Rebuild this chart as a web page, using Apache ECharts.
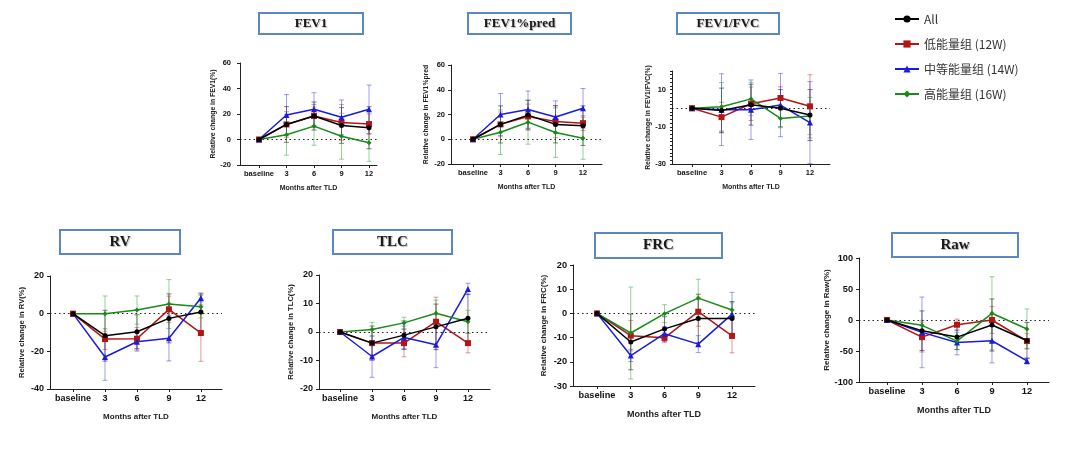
<!DOCTYPE html>
<html><head><meta charset="utf-8">
<script src="https://cdn.jsdelivr.net/npm/echarts@6/dist/echarts.min.js"></script>
<style>html,body{margin:0;padding:0;background:#fff}#c{width:1080px;height:450px}</style>
</head><body><div id="c"></div>
<script>
// ---------- data ----------
const months = ['baseline', '3', '6', '9', '12'];
const groups = ['All', '低能量组 (12W)', '中等能量组 (14W)', '高能量组 (16W)'];

// each: [All, Low(12W), Mid(14W), High(16W)]
const fev1Mean = [[0, 11.8, 18.4, 11, 9.2], [0, 11.8, 18.4, 13.4, 12.1], [0, 19.2, 23.7, 17.4, 23.7], [0, 3.7, 10.5, 2.6, -2.6]];
const fev1Sd   = [[0, 14, 11, 14, 16.5], [0, 10, 9, 14, 8], [0, 16, 13, 13.6, 19], [0, 16, 15, 18, 14.5]];

const fev1PredMean = [[0, 12, 19.5, 12, 11], [0, 12, 18.4, 14.3, 13], [0, 20, 24, 18, 25], [0, 5.7, 13.8, 5.4, 0.8]];
const fev1PredSd   = [[0, 15, 12, 15, 16], [0, 10, 10, 13, 6], [0, 17, 15, 13, 16], [0, 18, 17.8, 20, 17]];

const fev1FvcMean = [[0, -1.2, 1.9, 0, -3.7], [0, -4.8, 2.4, 5.5, 1], [0, -0.8, -0.8, 1.7, -7.7], [0, 0.8, 5, -5.5, -4.2]];
const fev1FvcSd   = [[0, 12, 11, 10, 13.7], [0, 8, 9, 6, 17], [0, 19.3, 16, 17, 22], [0, 13, 9, 5, 10]];

const rvMean = [[0, -11.7, -9.6, -2.5, 0.9], [0, -13.5, -13.3, 2.3, -10.3], [0, -23, -14.9, -13.1, 8.3], [0, 0, 1.9, 5.1, 3.7]];
const rvSd   = [[0, 13.5, 9, 13, 10], [0, 5.5, 6, 7, 15], [0, 12.4, 5, 12, 2], [0, 9.4, 7.5, 13, 6]];

const tlcMean = [[0, -3.9, -1.1, 1.8, 4.8], [0, -3.9, -3.9, 3.6, -3.9], [0, -8.6, -1.9, -4.5, 15.1], [0, 0.9, 3.2, 6.6, 3.6]];
const tlcSd   = [[0, 6, 5, 8, 8.5], [0, 5, 4.8, 8.6, 3.4], [0, 7.3, 4, 8, 2], [0, 2.5, 2, 4.6, 4]];

const frcMean = [[0, -11.8, -6.4, -2.1, -2.1], [0, -9.2, -10.1, 0.7, -9.3], [0, -17.4, -8.4, -12.7, -0.3], [0, -8.1, -0.1, 6.3, 1.4]];
const frcSd   = [[0, 11.5, 5, 10, 7], [0, 6.3, 2, 6, 7], [0, 2.5, 3, 3.5, 9], [0, 19, 3.7, 7.8, 3]];

const rawMean = [[0, -17.3, -27.6, -8.1, -33], [0, -27.6, -7.6, 0, -34], [0, -20, -36.2, -33.5, -66], [0, -8.6, -34, 10.8, -14.6]];
const rawSd   = [[0, 32, 20, 42, 29], [0, 24, 9, 21.6, 12], [0, 57, 20, 35.7, 5], [0, 8, 14, 59, 32.4]];

// ---------- layout / style ----------
const colors = ['#000000', '#b31515', '#1a1ae0', '#188a18'];
const errColors = ['rgba(0,0,0,0.5)', 'rgba(190,30,30,0.45)', 'rgba(40,40,230,0.45)', 'rgba(30,150,30,0.45)'];
const symbols = ['circle', 'rect', 'triangle', 'diamond'];
const symSizes = [5, 6, 6, 5];

const panels = [
  {title: 'FEV1', yName: 'Relative change in FEV1(%)', mean: fev1Mean, sd: fev1Sd, ymin: -20, ymax: 60, interval: 20,
   grid: {left: 240, top: 63, width: 137, height: 102}, xmin: -0.69, xmax: 4.29, box: [259, 13, 104, 21], tfs: 13, fs: 7.5, nfs: 7, yfs: 6.8, yGap: 21, lblMargin: 9},
  {title: 'FEV1%pred', yName: 'Relative change in FEV1%pred', mean: fev1PredMean, sd: fev1PredSd, ymin: -20, ymax: 60, interval: 20,
   grid: {left: 451, top: 65, width: 151, height: 99}, xmin: -0.8, xmax: 4.69, box: [468, 13, 103, 21], tfs: 13, fs: 7.5, nfs: 7, yfs: 6.8, yGap: 21, lblMargin: 6},
  {title: 'FEV1/FVC', yName: 'Relative change in FEV1/FVC(%)', mean: fev1FvcMean, sd: fev1FvcSd, ymin: -30, ymax: 20, interval: 2, labels: [-30, -10, 10],
   grid: {left: 672, top: 71, width: 158, height: 93}, xmin: -0.68, xmax: 4.68, box: [677, 13, 102, 21], tfs: 13, fs: 7.5, nfs: 7, yfs: 6.8, yGap: 20, lblMargin: 6},
  {title: 'RV', yName: 'Relative change in RV(%)', mean: rvMean, sd: rvSd, ymin: -40, ymax: 20, interval: 20,
   grid: {left: 50, top: 276, width: 172, height: 113}, xmin: -0.72, xmax: 4.66, box: [60, 230, 120, 24], tfs: 15, fs: 9, nfs: 8, yfs: 7.6, yGap: 24, lblMargin: 6},
  {title: 'TLC', yName: 'Relative change in TLC(%)', mean: tlcMean, sd: tlcSd, ymin: -20, ymax: 20, interval: 10,
   grid: {left: 319, top: 275, width: 171, height: 114}, xmin: -0.66, xmax: 4.69, box: [333, 230, 119, 24], tfs: 15, fs: 9, nfs: 8, yfs: 7.6, yGap: 24, lblMargin: 6},
  {title: 'FRC', yName: 'Relative change in FRC(%)', mean: frcMean, sd: frcSd, ymin: -30, ymax: 20, interval: 10,
   grid: {left: 573, top: 265, width: 182, height: 121}, xmin: -0.71, xmax: 4.68, box: [595, 233, 127, 25], tfs: 15, fs: 9.2, nfs: 9, yfs: 8, yGap: 25, lblMargin: 6},
  {title: 'Raw', yName: 'Relative change in Raw(%)', mean: rawMean, sd: rawSd, ymin: -100, ymax: 100, interval: 50,
   grid: {left: 859, top: 258, width: 190, height: 124}, xmin: -0.8, xmax: 4.63, box: [892, 233, 126, 24], tfs: 15, fs: 9.2, nfs: 9, yfs: 8, yGap: 27, lblMargin: 6}
];

const FONT = '"Liberation Sans", Arial, sans-serif';
const grids = [], xAxes = [], yAxes = [], series = [], graphics = [];

function makeErrRender(col) {
  return function (params, api) {
    const x = api.value(0), lo = api.value(1), hi = api.value(2);
    if (hi === lo) return null;
    const p1 = api.coord([x, hi]), p2 = api.coord([x, lo]);
    const w = 2.5;
    const st = {stroke: col, lineWidth: 1};
    return {type: 'group', children: [
      {type: 'line', shape: {x1: p1[0], y1: p1[1], x2: p2[0], y2: p2[1]}, style: st},
      {type: 'line', shape: {x1: p1[0] - w, y1: p1[1], x2: p1[0] + w, y2: p1[1]}, style: st},
      {type: 'line', shape: {x1: p2[0] - w, y1: p2[1], x2: p2[0] + w, y2: p2[1]}, style: st}
    ]};
  };
}

panels.forEach((p, k) => {
  grids.push(Object.assign({containLabel: false}, p.grid));
  const axisLine = {show: true, onZero: false, lineStyle: {color: '#222', width: 1}};
  xAxes.push({
    type: 'value', gridIndex: k, min: p.xmin, max: p.xmax,
    name: 'Months after TLD', nameLocation: 'middle', nameGap: p.fs * 2.6,
    nameTextStyle: {fontFamily: FONT, fontWeight: 'bold', fontSize: p.nfs, color: '#222'},
    axisLine: axisLine, splitLine: {show: false},
    axisTick: {show: true, customValues: [0, 1, 2, 3, 4], length: 3, lineStyle: {color: '#222'}},
    axisLabel: {customValues: [0, 1, 2, 3, 4], formatter: v => months[Math.round(v)], fontFamily: FONT,
      fontWeight: 'bold', fontSize: p.fs, color: '#111', margin: 5}
  });
  const yLabel = {fontFamily: FONT, fontWeight: 'bold', fontSize: p.fs, color: '#111', margin: p.lblMargin};
  if (p.labels) yLabel.customValues = p.labels;
  yAxes.push({
    type: 'value', gridIndex: k, min: p.ymin, max: p.ymax, interval: p.interval,
    name: p.yName, nameLocation: 'middle', nameGap: p.yGap,
    nameTextStyle: {fontFamily: FONT, fontWeight: 'bold', fontSize: p.yfs, color: '#222'},
    axisLine: axisLine, splitLine: {show: false},
    axisTick: {show: true, length: p.labels ? 2 : 3, lineStyle: {color: '#222'}},
    axisLabel: yLabel
  });
  // title box
  graphics.push({type: 'rect', shape: {x: p.box[0], y: p.box[1], width: p.box[2], height: p.box[3]},
    style: {fill: '#fff', stroke: '#5b87c5', lineWidth: 2}, z: 10});
  graphics.push({type: 'text', x: p.box[0] + p.box[2] / 2, y: p.box[1] + p.box[3] / 2,
    style: {text: p.title, fill: '#1a1a1a', font: 'bold ' + p.tfs + 'px "Liberation Serif", "Times New Roman", serif',
      textAlign: 'center', textVerticalAlign: 'middle', textShadowColor: 'rgba(0,0,0,0.3)', textShadowOffsetX: 1, textShadowOffsetY: 1, textShadowBlur: 1}, z: 11});

  // line series
  p.mean.forEach((vals, g) => {
    series.push({
      type: 'line', name: groups[g], xAxisIndex: k, yAxisIndex: k,
      data: vals.map((v, i) => [i, v]),
      symbol: symbols[g], symbolSize: symSizes[g], showSymbol: true,
      lineStyle: {color: colors[g], width: 1.5}, itemStyle: {color: colors[g]},
      z: 5 + (g === 0 ? 1 : 0), animation: false,
      markLine: g === 0 ? {silent: true, symbol: 'none', label: {show: false},
        lineStyle: {color: '#222', type: [1.5, 3], width: 1.2}, data: [{yAxis: 0}]} : undefined
    });
  });
  // error bars
  p.mean.forEach((vals, g) => {
    series.push({
      type: 'custom', name: groups[g], xAxisIndex: k, yAxisIndex: k, clip: true,
      renderItem: makeErrRender(errColors[g]),
      data: vals.map((v, i) => [i, v - p.sd[g][i], v + p.sd[g][i]]),
      itemStyle: {color: colors[g]}, z: 3, animation: false, silent: true
    });
  });
});

const chart = echarts.init(document.getElementById('c'), null, {renderer: 'canvas'});
chart.setOption({
  animation: false,
  backgroundColor: '#fff',
  grid: grids, xAxis: xAxes, yAxis: yAxes, series: series, graphic: graphics,
  legend: {
    data: groups, orient: 'vertical', left: 889, top: 8, itemWidth: 24, itemHeight: 9, itemGap: 13,
    selectedMode: false,
    textStyle: {fontFamily: '"Noto Sans CJK SC", "Noto Sans", sans-serif', fontSize: 12, color: '#333'}
  }
});
</script></body></html>
